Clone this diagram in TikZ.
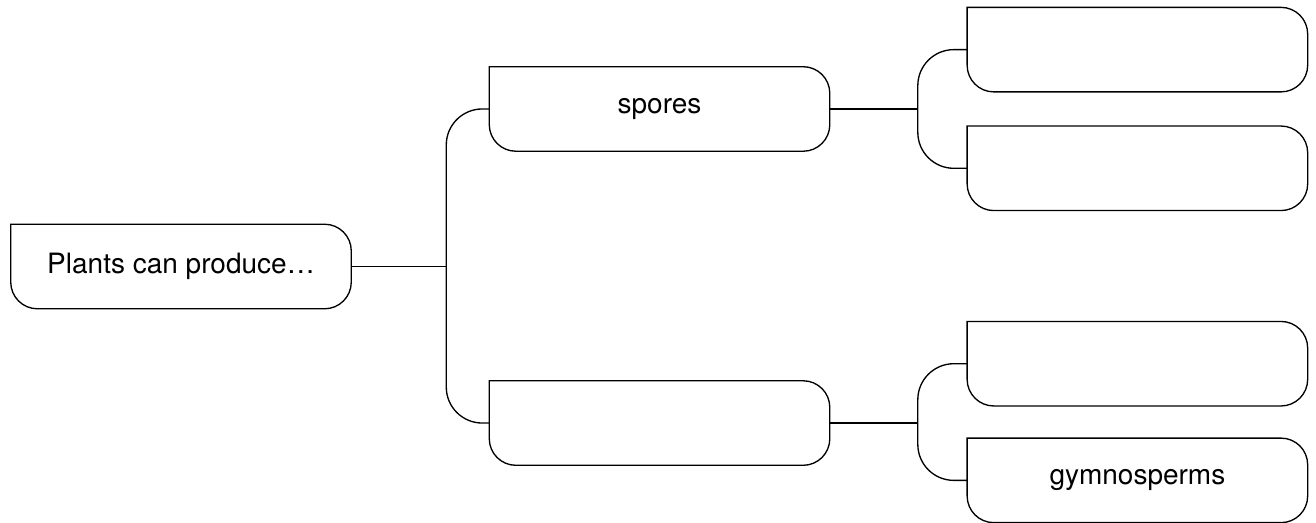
\documentclass[tikz,border=0pt]{standalone}
\usepackage{fontspec}
\setmainfont{TeX Gyre Heros}
\usetikzlibrary{positioning}

\begin{document}
\begin{tikzpicture}[
    box/.style={rectangle, minimum width=255pt, minimum height=63pt, inner sep=0pt, font=\fontsize{21}{25}\selectfont},
    outline/.style={line width=1pt},
    link/.style={line width=1pt, rounded corners=27pt}
]
\useasboundingbox (-135.75pt,-191.625pt) rectangle (851.25pt,199.875pt);

\node[box] (root) {Plants can produce…};
\node[box, above right=54.75pt and 103.5pt of root] (spores) {spores};
\node[box, below right=54pt and 103.5pt of root] (seeds) {};
\node[box, right=103pt of spores, yshift=44.5pt] (sporeA) {};
\node[box, right=103pt of spores, yshift=-44.5pt] (sporeB) {};
\node[box, right=103pt of seeds, yshift=44.5pt] (seedA) {};
\node[box, right=103pt of seeds, yshift=-43pt] (gymno) {gymnosperms};

% box outlines: square top left corner, the others rounded
\foreach \n in {root,spores,seeds,sporeA,sporeB,seedA,gymno}
  \draw[outline] (\n.north west) -- ([xshift=-20pt]\n.north east)
    arc[start angle=90, end angle=0, radius=20pt] -- ([yshift=20pt]\n.south east)
    arc[start angle=0, end angle=-90, radius=20pt] -- ([xshift=20pt]\n.south west)
    arc[start angle=270, end angle=180, radius=20pt] -- cycle;

\coordinate[right=71.25pt of root.east] (fork);
\coordinate[right=66pt of spores.east] (forkA);
\coordinate[right=66pt of seeds.east] (forkB);

\draw[link] (root) -- (fork);
\draw[link] (spores.west) -| (fork |- seeds.west) -- (seeds.west);
\draw[link] (spores) -- (forkA);
\draw[link] (sporeA.west) -| (forkA |- sporeB.west) -- (sporeB.west);
\draw[link] (seeds) -- (forkB);
\draw[link] (seedA.west) -| (forkB |- gymno.west) -- (gymno.west);
\end{tikzpicture}
\end{document}
